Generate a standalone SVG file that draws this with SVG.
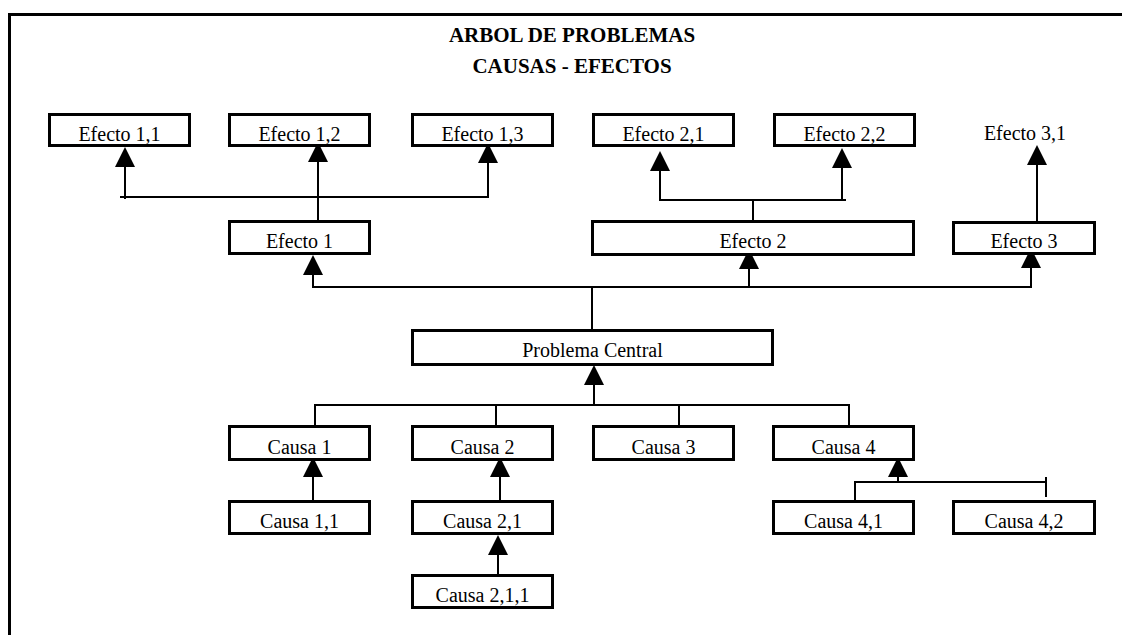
<svg xmlns="http://www.w3.org/2000/svg" width="1122" height="635" viewBox="0 0 1122 635">
  <style>
    .box { fill: #ffffff; stroke: #000000; stroke-width: 3; }
    .lbl { font-family: "Liberation Serif", "Times New Roman", serif; font-size: 20px; fill: #000000; text-anchor: middle; }
    .ttl { font-family: "Liberation Serif", "Times New Roman", serif; font-size: 21px; font-weight: bold; fill: #000000; text-anchor: middle; }
    .ln { stroke: #000000; stroke-width: 2; fill: none; }
    .arr { stroke: #000000; stroke-width: 2; fill: none; marker-end: url(#ah); }
    .frame { stroke: #000000; stroke-width: 3; fill: none; }
  </style>
  <defs>
    <marker id="ah" markerUnits="userSpaceOnUse" markerWidth="20" markerHeight="20" refX="0" refY="10" orient="auto" viewBox="0 0 20 20">
      <path d="M0,0 L20,10 L0,20 z" fill="#000000"/>
    </marker>
  </defs>
  <rect width="1122" height="635" fill="#ffffff"/>
  <path class="frame" d="M9.5,635 L9.5,14.5 L1122,14.5"/>
  <g id="title">
    <text class="ttl" x="572" y="42">ARBOL DE PROBLEMAS</text>
    <text class="ttl" x="572" y="73">CAUSAS - EFECTOS</text>
  </g>
  <g id="connectors">
    <path class="ln" d="M120,197 L489,197"/>
    <path class="ln" d="M659,200 L846,200"/>
    <path class="ln" d="M753,200 L753,221"/>
    <path class="ln" d="M312,287 L1032,287"/>
    <path class="ln" d="M592,287 L592,330"/>
    <path class="ln" d="M314,405 L850,405"/>
    <path class="ln" d="M315,405 L315,426"/>
    <path class="ln" d="M496,405 L496,426"/>
    <path class="ln" d="M679,405 L679,427"/>
    <path class="ln" d="M849,405 L849,427"/>
    <path class="ln" d="M854,482 L1046,482"/>
    <path class="ln" d="M855,482 L855,501"/>
    <path class="ln" d="M1046,477 L1046,497"/>
    <path class="arr" d="M125,199 L125,167"/>
    <path class="arr" d="M318,221 L318,162"/>
    <path class="arr" d="M488,198 L488,163"/>
    <path class="arr" d="M660,201 L660,171"/>
    <path class="arr" d="M842,201 L842,168"/>
    <path class="arr" d="M1037,227 L1037,165"/>
    <path class="arr" d="M313,288 L313,275"/>
    <path class="arr" d="M749,288 L749,269"/>
    <path class="arr" d="M1031,288 L1031,268"/>
    <path class="arr" d="M594,406 L594,385"/>
    <path class="arr" d="M313,501 L313,477"/>
    <path class="arr" d="M500,501 L500,477"/>
    <path class="arr" d="M498,575 L498,555"/>
    <path class="arr" d="M898,482 L898,477"/>
  </g>
  <g id="efecto-1-1"><rect class="box" x="49.5" y="114.5" width="140" height="31"/><text class="lbl" x="119.5" y="140.5">Efecto 1,1</text></g>
  <g id="efecto-1-2"><rect class="box" x="229.5" y="114.5" width="140" height="31"/><text class="lbl" x="299.5" y="140.5">Efecto 1,2</text></g>
  <g id="efecto-1-3"><rect class="box" x="412.5" y="114.5" width="140" height="31"/><text class="lbl" x="482.5" y="140.5">Efecto 1,3</text></g>
  <g id="efecto-2-1"><rect class="box" x="593.5" y="114.5" width="140" height="31"/><text class="lbl" x="663.5" y="140.5">Efecto 2,1</text></g>
  <g id="efecto-2-2"><rect class="box" x="774.5" y="114.5" width="140" height="31"/><text class="lbl" x="844.5" y="140.5">Efecto 2,2</text></g>
  <g id="efecto-3-1"><text class="lbl" x="1025" y="140">Efecto 3,1</text></g>
  <g id="efecto-1"><rect class="box" x="229.5" y="221.5" width="140" height="32"/><text class="lbl" x="299.5" y="247.5">Efecto 1</text></g>
  <g id="efecto-2"><rect class="box" x="592.5" y="221.5" width="321" height="33"/><text class="lbl" x="753" y="248">Efecto 2</text></g>
  <g id="efecto-3"><rect class="box" x="953.5" y="222.5" width="141" height="31"/><text class="lbl" x="1024" y="248">Efecto 3</text></g>
  <g id="problema-central"><rect class="box" x="412.5" y="330.5" width="360" height="34"/><text class="lbl" x="592.5" y="357">Problema Central</text></g>
  <g id="causa-1"><rect class="box" x="229.5" y="426.5" width="140" height="33"/><text class="lbl" x="299.5" y="453.5">Causa 1</text></g>
  <g id="causa-2"><rect class="box" x="412.5" y="426.5" width="140" height="33"/><text class="lbl" x="482.5" y="453.5">Causa 2</text></g>
  <g id="causa-3"><rect class="box" x="593.5" y="426.5" width="140" height="33"/><text class="lbl" x="663.5" y="453.5">Causa 3</text></g>
  <g id="causa-4"><rect class="box" x="773.5" y="426.5" width="140" height="33"/><text class="lbl" x="843.5" y="453.5">Causa 4</text></g>
  <g id="causa-1-1"><rect class="box" x="229.5" y="501.5" width="140" height="32"/><text class="lbl" x="299.5" y="528">Causa 1,1</text></g>
  <g id="causa-2-1"><rect class="box" x="412.5" y="501.5" width="140" height="32"/><text class="lbl" x="482.5" y="528">Causa 2,1</text></g>
  <g id="causa-4-1"><rect class="box" x="773.5" y="501.5" width="140" height="32"/><text class="lbl" x="843.5" y="528">Causa 4,1</text></g>
  <g id="causa-4-2"><rect class="box" x="953.5" y="501.5" width="141" height="32"/><text class="lbl" x="1024" y="528">Causa 4,2</text></g>
  <g id="causa-2-1-1"><rect class="box" x="412.5" y="575.5" width="140" height="32"/><text class="lbl" x="482.5" y="602">Causa 2,1,1</text></g>
</svg>
